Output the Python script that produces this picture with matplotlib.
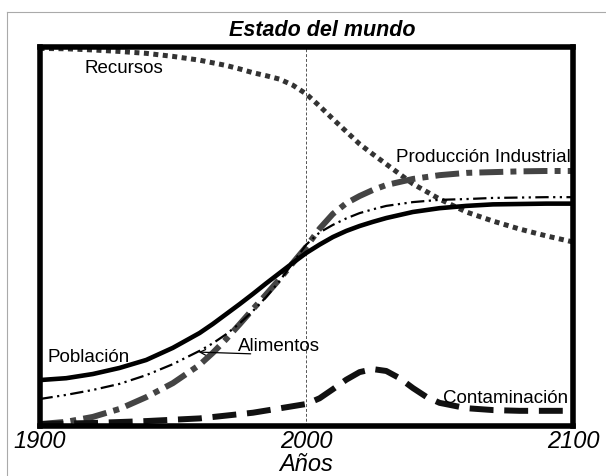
#! /usr/bin/env python3
# coding: utf-8

import matplotlib
matplotlib.use('Agg')
import matplotlib.pyplot as plt
from matplotlib.lines import Line2D

plt.rcParams['font.family'] = ['Liberation Sans', 'DejaVu Sans']

# values on a 0..1 scale
years = [1900, 1910, 1920, 1930, 1940, 1950, 1960, 1965, 1970, 1975, 1980, 1985, 1990, 1995,
         2000, 2005, 2010, 2015, 2020, 2025, 2030, 2040, 2050, 2060, 2070, 2080, 2090, 2100]
poblacion = [0.121, 0.126, 0.137, 0.153, 0.174, 0.206, 0.245, 0.269, 0.295, 0.321, 0.348,
             0.376, 0.403, 0.430, 0.456, 0.478, 0.498, 0.514, 0.527, 0.538, 0.548,
             0.564, 0.574, 0.580, 0.584, 0.585, 0.586, 0.586]
alimentos = [0.071, 0.082, 0.095, 0.111, 0.134, 0.163, 0.198, 0.218, 0.242, 0.270, 0.303,
             0.340, 0.382, 0.430, 0.478, 0.510, 0.530, 0.547, 0.561, 0.571, 0.580,
             0.590, 0.596, 0.598, 0.601, 0.602, 0.603, 0.603]
produccion = [0.005, 0.011, 0.024, 0.045, 0.076, 0.113, 0.161, 0.193, 0.229, 0.268, 0.308,
              0.347, 0.387, 0.430, 0.472, 0.520, 0.559, 0.587, 0.606, 0.622, 0.635,
              0.651, 0.661, 0.667, 0.669, 0.671, 0.672, 0.672]
recursos = [0.995, 0.994, 0.991, 0.987, 0.982, 0.974, 0.964, 0.957, 0.950, 0.941, 0.931,
            0.923, 0.914, 0.898, 0.875, 0.843, 0.809, 0.776, 0.743, 0.716, 0.690,
            0.638, 0.598, 0.564, 0.540, 0.519, 0.501, 0.485]

years_cont = [1900, 1920, 1940, 1960, 1980, 2000, 2005, 2010, 2015, 2020, 2025,
              2030, 2035, 2040, 2045, 2050, 2060, 2070, 2080, 2090, 2100]
contaminacion = [0.005, 0.008, 0.013, 0.020, 0.035, 0.058, 0.073, 0.097, 0.122, 0.142, 0.150,
                 0.145, 0.126, 0.100, 0.077, 0.061, 0.047, 0.042, 0.040, 0.040, 0.040]

tick_years = [1900, 2000, 2100]

fig = plt.figure(figsize=(6.06, 4.77), dpi=100)
ax = fig.add_axes([0.0652, 0.1048, 0.8803, 0.7956])

ax.axvline(2000, color='#555555', lw=0.7, dashes=(3, 2))

ax.plot(years, recursos, color='#333333', lw=3.6, dashes=(1, 0.9))
ax.plot(years, produccion, color='#444444', lw=4.3, dashes=(4, 1.2, 1, 1.2))
ax.plot(years, alimentos, color='black', lw=1.6, dashes=(6, 2, 1, 2, 1, 2))
ax.plot(years, poblacion, color='black', lw=3.3)
ax.plot(years_cont, contaminacion, color='#111111', lw=4.3, dashes=(4, 1.8))

ax.set_xlim(1900, 2100)
ax.set_ylim(0, 1)
ax.set_yticks([])
ax.set_xticks(tick_years)
ax.set_xticklabels([str(y) for y in tick_years], fontsize=17, style='italic')
ax.tick_params(axis='x', length=0, pad=2)
for s in ax.spines.values():
    s.set_linewidth(4)
    s.set_color('black')

lbl = dict(fontsize=13.5, color='black', va='center')
ax.text(1917, 0.946, 'Recursos', ha='left', **lbl)
ax.text(2099, 0.711, 'Producción Industrial', ha='right', **lbl)
ax.text(1903, 0.184, 'Población', ha='left', **lbl)
ax.text(1974.4, 0.211, 'Alimentos', ha='left', **lbl)
ax.text(2051.2, 0.076, 'Contaminación', ha='left', **lbl)
ax.annotate('', xy=(1958.6, 0.195), xytext=(1980.2, 0.190),
            arrowprops=dict(arrowstyle='->', color='black', lw=0.9))

fig.text(322 / 606, 1 - 30 / 477, 'Estado del mundo', ha='center', va='center',
         fontsize=15.5, fontweight='bold', style='italic')
fig.text(306 / 606, 1 / 477, 'Años', ha='center', va='bottom',
         fontsize=17, style='italic')

# page border seen at top and left of the picture
fig.add_artist(Line2D([7 / 606, 7 / 606], [0, 1 - 13 / 477], color='#aaaaaa', lw=0.8))
fig.add_artist(Line2D([7 / 606, 1], [1 - 13 / 477, 1 - 13 / 477], color='#aaaaaa', lw=0.8))

fig.savefig('out.png', dpi=100)
